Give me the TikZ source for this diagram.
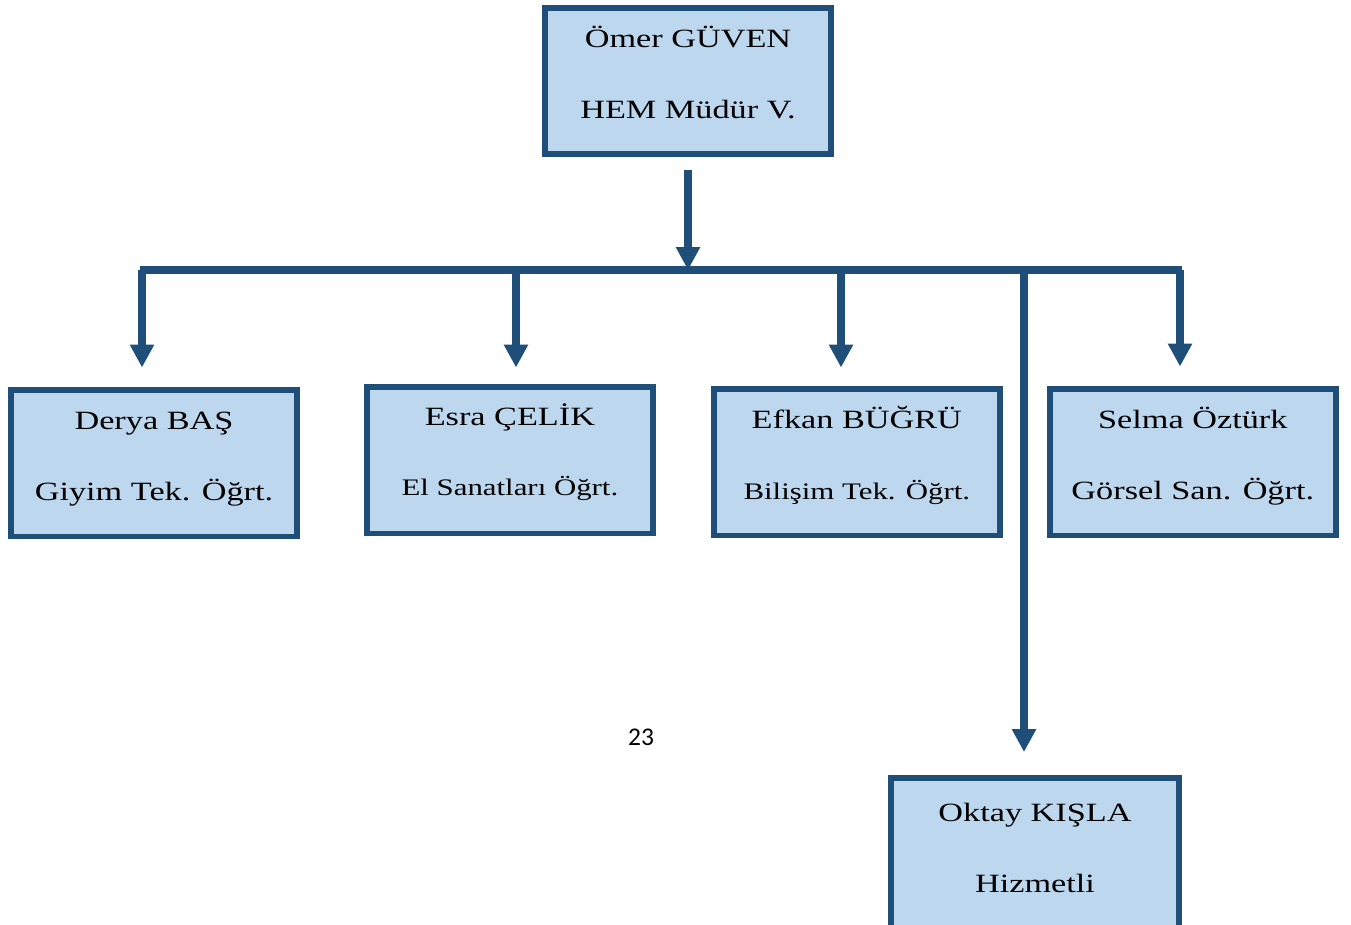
\documentclass[tikz,border=0pt]{standalone}
\usepackage{fontspec}
\setmainfont{Liberation Serif}[FakeStretch=1.3]
\newfontfamily\pagefont{Carlito}
\usepackage{tikz}
\usetikzlibrary{arrows.meta}
\usetikzlibrary{positioning}
\definecolor{boxfill}{RGB}{189,215,238}
\definecolor{boxline}{RGB}{31,78,121}
\tikzset{
    staff/.style={
      rectangle,
           draw=boxline, line width=0.12cm,
           fill=boxfill,
           inner sep=2pt,
           align=center,
           minimum width=5.72cm,
           minimum height=2.94cm,
           font=\fontsize{15}{40}\selectfont,
           },
}
\tikzset{
    link/.style={
      draw=boxline, line width=0.15cm,
           -{Triangle[width=0.46cm,length=0.46cm]},
           },
}
\tikzset{
    bar/.style={
      draw=boxline, line width=0.15cm,
           },
}
\newcommand{\gorev}[1]{{\fontsize{13.5}{40}\selectfont #1}}

\begin{document}
\begin{tikzpicture}[x=0.02cm,y=-0.02cm]

\useasboundingbox (0,0) rectangle (1351,924);

\node[staff,text height=1.76cm,text depth=0.28cm](omer) at (688,81){Ömer GÜVEN\\HEM Müdür V.};

\node[staff,text height=1.76cm,text depth=0.28cm](derya) at (154,463){Derya BAŞ\\Giyim Tek. Öğrt.};
\node[staff,text height=1.7cm,text depth=0.28cm,right = 1.28cm of derya,yshift=0.06cm](esra){Esra ÇELİK\\\gorev{El Sanatları Öğrt.}};
\node[staff,text height=1.76cm,text depth=0.28cm,right = 1.1cm of esra,yshift=-0.04cm](efkan){Efkan BÜĞRÜ\\\gorev{Bilişim Tek. Öğrt.}};
\node[staff,text height=1.76cm,text depth=0.28cm,right = 0.88cm of efkan](selma){Selma Öztürk\\Görsel San. Öğrt.};

\node[staff,text height=1.76cm,text depth=0.28cm,minimum width=5.78cm,minimum height=3.1cm](oktay) at (1035,855){Oktay KIŞLA\\Hizmetli};

% the long bar
\coordinate (bl) at (140,270);
\coordinate (br) at (1182,270);
\draw[bar] (bl) -- (br);

\draw[link,shorten <=0.26cm] (omer.south) -- (omer.south |- bl);

\coordinate (j1) at (142,270);
\coordinate (j2) at (516,270);
\coordinate (j3) at (841,270);
\coordinate (j4) at (1180,270);
\coordinate (j5) at (1024,270);

\draw[link,shorten >=0.38cm] (j1) -- (j1 |- derya.north);
\draw[link,shorten >=0.32cm] (j2) -- (j2 |- esra.north);
\draw[link,shorten >=0.36cm] (j3) -- (j3 |- efkan.north);
\draw[link,shorten >=0.38cm] (j4) -- (j4 |- selma.north);
\draw[link,shorten >=0.45cm] (j5) -- (j5 |- oktay.north);

\node[font=\pagefont\fontsize{14.5}{17}\selectfont](page) at (641,737){23};

\end{tikzpicture}
\end{document}
